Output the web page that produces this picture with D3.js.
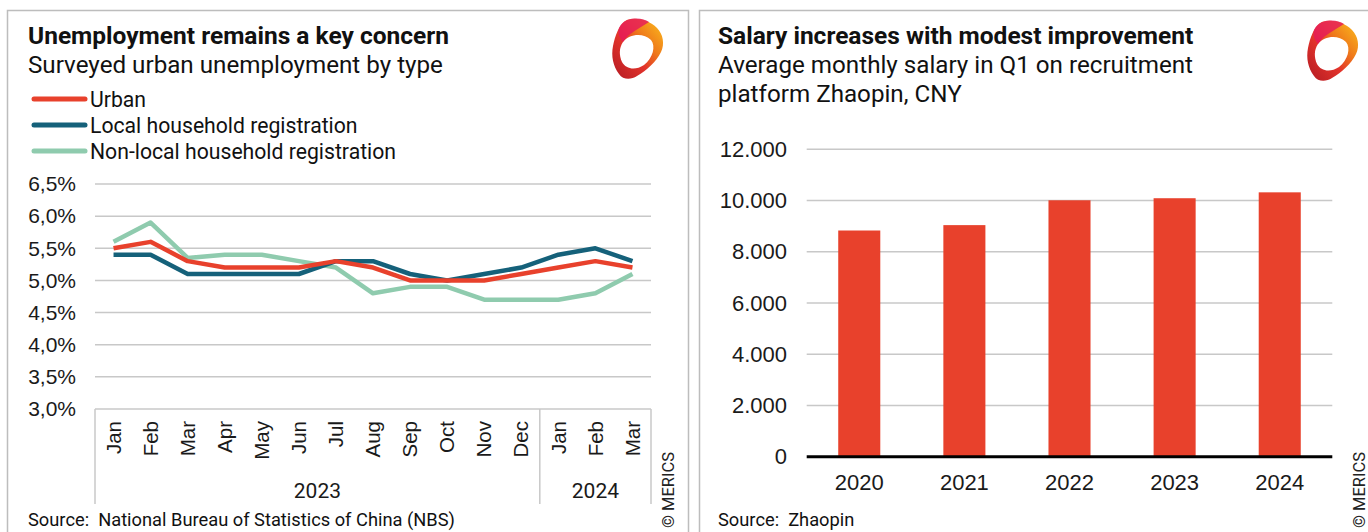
<!DOCTYPE html>
<html>
<head>
<meta charset="utf-8">
<script src="https://cdn.jsdelivr.net/npm/d3@7"></script>
<style>
  body { margin: 0; background: #fff; }
  svg { display: block; font-family: Roboto, "Noto Sans", sans-serif; }
  .axis path, .axis line { display: none; }
  .axis text { fill: #1a1a1a; }
</style>
</head>
<body>
<svg id="chart" width="1368" height="532"></svg>
<script>
// unemployment by type, Jan 2023 - Mar 2024
const months = ["Jan","Feb","Mar","Apr","May","Jun","Jul","Aug","Sep","Oct","Nov","Dec","Jan","Feb","Mar"];
const yearGroups = [{ year: "2023", n: 12 }, { year: "2024", n: 3 }];
const urban    = [5.5, 5.6, 5.3, 5.2, 5.2, 5.2, 5.3, 5.2, 5.0, 5.0, 5.0, 5.1, 5.2, 5.3, 5.2];
const local    = [5.4, 5.4, 5.1, 5.1, 5.1, 5.1, 5.3, 5.3, 5.1, 5.0, 5.1, 5.2, 5.4, 5.5, 5.3];
const nonLocal = [5.6, 5.9, 5.35, 5.4, 5.4, 5.3, 5.2, 4.8, 4.9, 4.9, 4.7, 4.7, 4.7, 4.8, 5.1];
const pctTicks = [3.0, 3.5, 4.0, 4.5, 5.0, 5.5, 6.0, 6.5];

// Zhaopin salaries
const salaryYears = ["2020", "2021", "2022", "2023", "2024"];
const salary = [8830, 9040, 10010, 10090, 10320];
const salaryTicks = [0, 2000, 4000, 6000, 8000, 10000, 12000];

const series = [
  { name: "Urban", values: urban, color: "#e8412c" },
  { name: "Local household registration", values: local, color: "#15617a" },
  { name: "Non-local household registration", values: nonLocal, color: "#8fcbae" }
];

const svg = d3.select("#chart");
const grid = "#c8c8c8";

// panel frames
svg.append("path").attr("d", "M7.5,540 V10.5 H688.5 V540")
  .attr("fill", "none").attr("stroke", "#bdbdbd").attr("stroke-width", 1.5);
svg.append("path").attr("d", "M699.5,540 V10.5 H1380")
  .attr("fill", "none").attr("stroke", "#bdbdbd").attr("stroke-width", 1.5);

// logo
const defs = svg.append("defs");
const lg = defs.append("linearGradient").attr("id", "lg")
  .attr("x1", 0.1).attr("y1", 1).attr("x2", 0.9).attr("y2", 0.2);
lg.append("stop").attr("offset", "0").attr("stop-color", "#b81d24");
lg.append("stop").attr("offset", "0.45").attr("stop-color", "#e2332b");
lg.append("stop").attr("offset", "0.75").attr("stop-color", "#ef7a1a");
lg.append("stop").attr("offset", "1").attr("stop-color", "#f6a21c");

function logo(x, y) {
  const l = svg.append("g").attr("transform", `translate(${x},${y})`);
  l.append("path")
    .attr("d", "M16,2 C26,-1 38,2 46,10 C52,16 54,26 50,34 C45,44 36,52 26,58 C20,62 12,62 8,56 C2,48 0,38 2,28 C4,18 8,6 16,2 Z " +
               "M12,24 C18,16 32,14 40,22 C45,28 42,40 33,47 C24,53 15,51 11,44 C8,37 8,30 12,24 Z")
    .attr("fill", "url(#lg)").attr("fill-rule", "evenodd");
  l.append("path")
    .attr("d", "M16,2 C26,-1 33,1 38,4 C32,8 24,12 18,17 C15,20 13,22 12,24 C9,20 6,15 8,10 C10,6 12,4 16,2 Z")
    .attr("fill", "#e6175c").attr("opacity", 0.8);
}
logo(611, 18);
logo(1306, 20);

// ---------- left: unemployment ----------
const x = d3.scaleBand().domain(d3.range(months.length)).range([95, 651]);
const y = d3.scaleLinear().domain([3, 6.5]).range([409, 184]);

svg.append("text").attr("x", 28).attr("y", 44).attr("font-size", 24.5).attr("font-weight", "bold")
  .attr("fill", "#111").text("Unemployment remains a key concern");
svg.append("text").attr("x", 28).attr("y", 73).attr("font-size", 24.2)
  .attr("fill", "#111").text("Surveyed urban unemployment by type");

const leg = svg.append("g").selectAll("g").data(series).enter().append("g")
  .attr("transform", (d, i) => `translate(0,${99 + i * 26})`);
leg.append("line").attr("x1", 34).attr("x2", 85).attr("stroke", d => d.color)
  .attr("stroke-width", 5).attr("stroke-linecap", "round");
leg.append("text").attr("x", 90).attr("y", 7.5).attr("font-size", 21.2).attr("fill", "#111").text(d => d.name);

svg.append("g").selectAll("line").data(pctTicks).enter().append("line")
  .attr("x1", 95).attr("x2", 651).attr("y1", d => y(d)).attr("y2", d => y(d))
  .attr("stroke", grid).attr("stroke-width", 1.5);

svg.append("g").attr("class", "axis").attr("transform", "translate(76,0)")
  .call(d3.axisLeft(y).tickValues(pctTicks).tickSize(0).tickPadding(0)
    .tickFormat(d => d3.format(".1f")(d).replace(".", ",") + "%"))
  .selectAll("text").attr("font-size", 21);

// category box
const bounds = [0, 12, 15];
svg.append("g").selectAll("line").data(bounds).enter().append("line")
  .attr("x1", d => d === 15 ? 651 : x(d)).attr("x2", d => d === 15 ? 651 : x(d))
  .attr("y1", 409).attr("y2", 504).attr("stroke", grid).attr("stroke-width", 1.5);

const xAxis = svg.append("g").attr("class", "axis").attr("transform", "translate(0,409)")
  .call(d3.axisBottom(x).tickSize(0).tickFormat(i => months[i]));
xAxis.selectAll("text")
  .attr("font-size", 20.5)
  .attr("transform", "rotate(-90)").attr("text-anchor", "end")
  .attr("x", -12).attr("y", 0).attr("dy", "0.35em");

let start = 0;
yearGroups.forEach(g => {
  const cx = (x(start) + x(start + g.n - 1) + x.bandwidth()) / 2;
  svg.append("text").attr("x", cx).attr("y", 498).attr("text-anchor", "middle")
    .attr("font-size", 21).attr("fill", "#1a1a1a").text(g.year);
  start += g.n;
});

const line = d3.line().x((d, i) => x(i) + x.bandwidth() / 2).y(d => y(d));
svg.append("g").selectAll("path").data(series.slice().reverse()).enter().append("path")
  .attr("d", d => line(d.values)).attr("fill", "none").attr("stroke", d => d.color)
  .attr("stroke-width", 4.5).attr("stroke-linejoin", "round");

svg.append("text").attr("x", 28).attr("y", 526).attr("font-size", 18.3).attr("fill", "#111")
  .attr("xml:space", "preserve").text("Source:  National Bureau of Statistics of China (NBS)");
svg.append("text").attr("transform", "translate(674,528) rotate(-90)").attr("font-size", 16.5)
  .attr("fill", "#222").text("© MERICS");

// ---------- right: salary ----------
const xb = d3.scaleBand().domain(salaryYears).range([806.7, 1332.3]).paddingInner(0.6).paddingOuter(0.3);
const yb = d3.scaleLinear().domain([0, 12000]).range([456.7, 149.3]);

svg.append("text").attr("x", 718).attr("y", 44).attr("font-size", 24.5).attr("font-weight", "bold")
  .attr("fill", "#111").text("Salary increases with modest improvement");
svg.append("text").attr("x", 718).attr("y", 73).attr("font-size", 24.2)
  .attr("fill", "#111").text("Average monthly salary in Q1 on recruitment");
svg.append("text").attr("x", 718).attr("y", 102).attr("font-size", 24.2)
  .attr("fill", "#111").text("platform Zhaopin, CNY");

svg.append("g").selectAll("line").data(salaryTicks.slice(1)).enter().append("line")
  .attr("x1", 806.7).attr("x2", 1332.3).attr("y1", d => yb(d)).attr("y2", d => yb(d))
  .attr("stroke", grid).attr("stroke-width", 1.5);

svg.append("g").attr("class", "axis").attr("transform", "translate(787,0)")
  .call(d3.axisLeft(yb).tickValues(salaryTicks).tickSize(0).tickPadding(0)
    .tickFormat(d => d3.format(",")(d).replace(/,/g, ".")))
  .selectAll("text").attr("font-size", 22);

svg.append("g").selectAll("rect").data(salary).enter().append("rect")
  .attr("x", (d, i) => xb(salaryYears[i])).attr("width", xb.bandwidth())
  .attr("y", d => yb(d)).attr("height", d => yb(0) - yb(d)).attr("fill", "#e8412c");

svg.append("line").attr("x1", 806.7).attr("x2", 1332.3).attr("y1", yb(0)).attr("y2", yb(0))
  .attr("stroke", "#000").attr("stroke-width", 3);

svg.append("g").attr("class", "axis").attr("transform", `translate(0,${yb(0)})`)
  .call(d3.axisBottom(xb).tickSize(0).tickPadding(18))
  .selectAll("text").attr("font-size", 22);

svg.append("text").attr("x", 718).attr("y", 526).attr("font-size", 18.3).attr("fill", "#111")
  .attr("xml:space", "preserve").text("Source:  Zhaopin");
svg.append("text").attr("transform", "translate(1365,528) rotate(-90)").attr("font-size", 16.5)
  .attr("fill", "#222").text("© MERICS");
</script>
</body>
</html>
